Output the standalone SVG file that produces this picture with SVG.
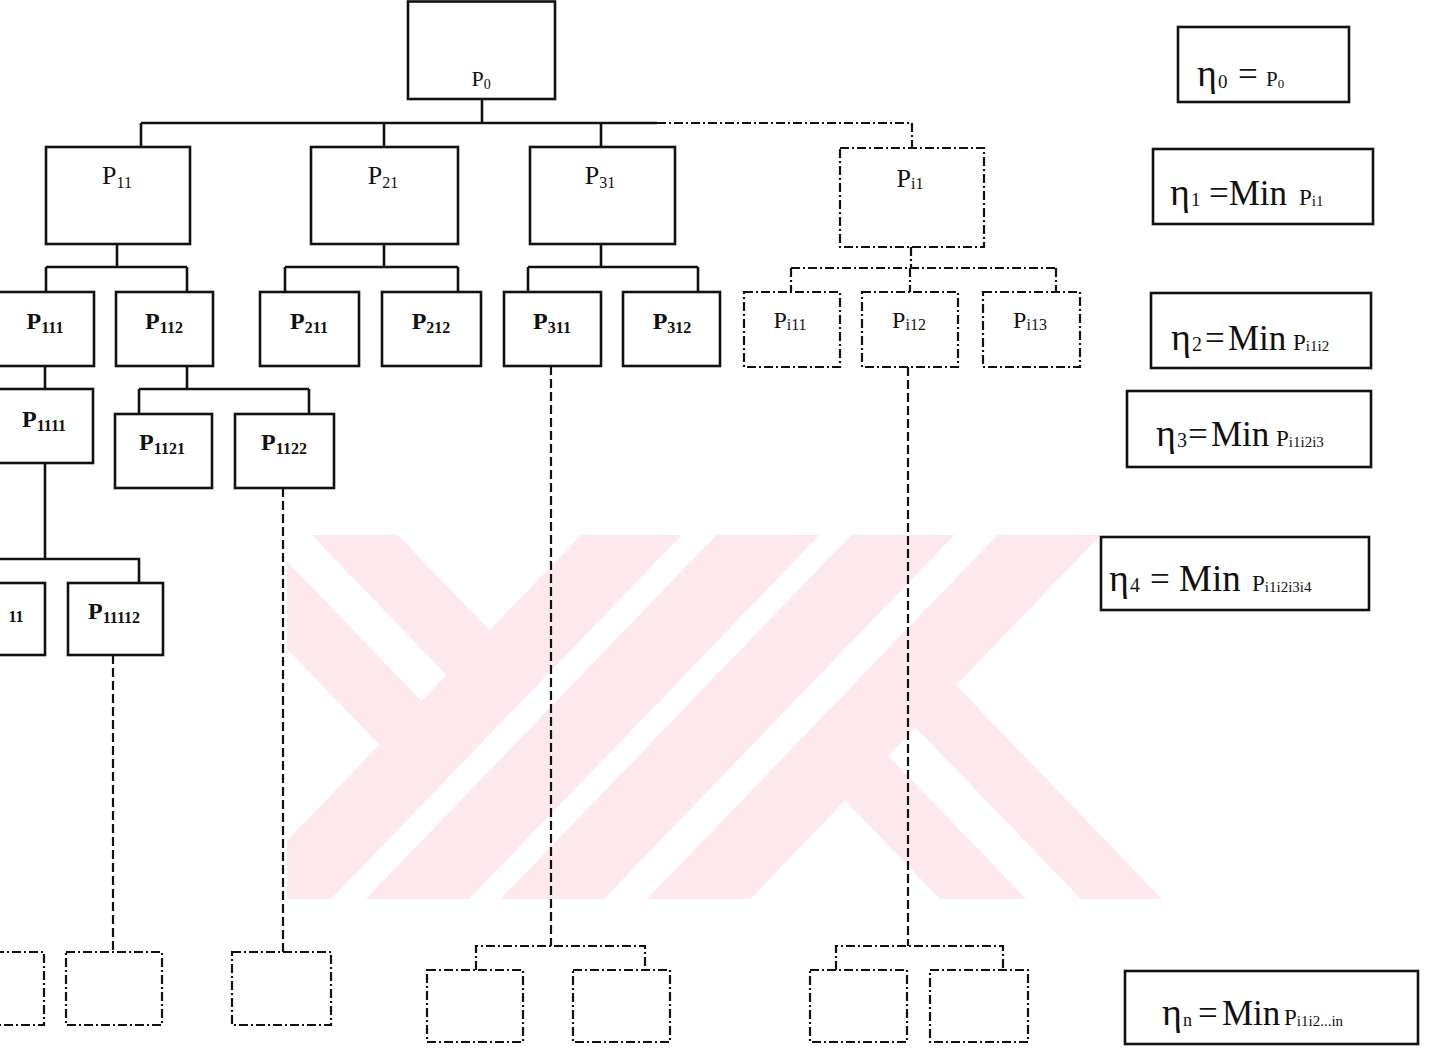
<svg xmlns="http://www.w3.org/2000/svg" width="1437" height="1049" viewBox="0 0 1437 1049">
<style>
.bx{fill:none;stroke:#111;stroke-width:2.6}
.dbx{fill:none;stroke:#111;stroke-width:2.2;stroke-dasharray:9 3 2 3}
.ln{fill:none;stroke:#111;stroke-width:2.6}
.dd{fill:none;stroke:#111;stroke-width:2.2;stroke-dasharray:9 3 2 3}
.ds{fill:none;stroke:#111;stroke-width:2.2;stroke-dasharray:9 4}
text{font-family:"Liberation Serif","Times New Roman",serif;fill:#111}
.p{font-size:26px}
.pb{font-size:24px;font-weight:bold}
.s{font-size:16px}
.eta{font-size:38px}
.mn{font-size:35px}
.sp{font-size:23px}
.ss{font-size:15px}
.wm{fill:#fde9ed}
</style>
<defs>
<clipPath id="wmclip"><rect x="287" y="535" width="888" height="364"/></clipPath>
</defs>
<rect width="1437" height="1049" fill="#ffffff"/>
<g id="watermark" clip-path="url(#wmclip)">
<polygon class="wm" points="581.3,535 681.7,535 331.2,899 230.8,899"/>
<polygon class="wm" points="716.2,535 819.5,535 469,899 365.7,899"/>
<polygon class="wm" points="851.1,535 954.4,535 603.9,899 500.6,899"/>
<polygon class="wm" points="997.5,535 1100.8,535 750.3,899 647,899"/>
<polygon class="wm" points="177.3,535 261.7,535 421.5,700.9 379.3,744.8"/>
<polygon class="wm" points="311.7,535 397.7,535 489.5,630.3 446.5,675"/>
<polygon class="wm" points="793.5,746.9 836.6,702.1 1026.1,899 940,899"/>
<polygon class="wm" points="863.9,673.8 904.5,631.6 1161.9,899 1080.7,899"/>
</g>
<g id="connectors">
<path class="ln" d="M482,99 V123 M141,123 H657 M141,123 V147 M384,123 V147 M601,123 V147"/>
<path class="dd" d="M657,123 H912 V148"/>
<path class="ln" d="M117,244 V267 M46,267 H187 M46,267 V292 M187,267 V292"/>
<path class="ln" d="M384,244 V267 M285,267 H458 M285,267 V292 M458,267 V292"/>
<path class="ln" d="M601,244 V267 M528,267 H698 M528,267 V292 M698,267 V292"/>
<path class="dd" d="M911,247 V268 M791,268 H1056 M791,268 V292 M1056,268 V292 M910,268 V292"/>
<path class="ln" d="M45,366 V389"/>
<path class="ln" d="M187,366 V389 M139,389 H309 M139,389 V414 M309,389 V414"/>
<path class="ln" d="M45,463 V559 M-5,559 H139 V583"/>
<path class="ds" d="M113,655 V952"/>
<path class="ds" d="M283,488 V952"/>
<path class="ds" d="M551,366 V946"/>
<path class="dd" d="M476,970 V946 H645 V970"/>
<path class="ds" d="M908,367 V946"/>
<path class="dd" d="M836,970 V946 H1003 V970"/>
</g>
<g id="node-P0"><rect class="bx" x="408" y="1.5" width="147" height="97.5"/><text class="p" x="481" y="86" text-anchor="middle" style="font-size:22px">P<tspan style="font-size:14px" dy="3">0</tspan></text></g>
<g id="node-P11"><rect class="bx" x="46" y="147" width="144" height="97"/><text class="p" x="117" y="184" text-anchor="middle">P<tspan class="s" dy="4">11</tspan></text></g>
<g id="node-P21"><rect class="bx" x="311" y="147" width="147" height="97"/><text class="p" x="383" y="184" text-anchor="middle">P<tspan class="s" dy="4">21</tspan></text></g>
<g id="node-P31"><rect class="bx" x="530" y="147" width="145" height="97"/><text class="p" x="600" y="184" text-anchor="middle">P<tspan class="s" dy="4">31</tspan></text></g>
<g id="node-Pi1"><rect class="dbx" x="840" y="148" width="144" height="99"/><text class="p" x="910" y="187" text-anchor="middle">P<tspan class="s" dy="2">i1</tspan></text></g>
<g id="node-P111"><rect class="bx" x="-5" y="292" width="99" height="74"/><text class="pb" x="45" y="329" text-anchor="middle">P<tspan class="s" dy="4">111</tspan></text></g>
<g id="node-P112"><rect class="bx" x="116" y="292" width="97" height="74"/><text class="pb" x="164" y="329" text-anchor="middle">P<tspan class="s" dy="4">112</tspan></text></g>
<g id="node-P211"><rect class="bx" x="260" y="292" width="99" height="74"/><text class="pb" x="309" y="329" text-anchor="middle">P<tspan class="s" dy="4">211</tspan></text></g>
<g id="node-P212"><rect class="bx" x="382" y="292" width="99" height="74"/><text class="pb" x="431" y="329" text-anchor="middle">P<tspan class="s" dy="4">212</tspan></text></g>
<g id="node-P311"><rect class="bx" x="504" y="292" width="97" height="74"/><text class="pb" x="552" y="329" text-anchor="middle">P<tspan class="s" dy="4">311</tspan></text></g>
<g id="node-P312"><rect class="bx" x="623" y="292" width="97" height="74"/><text class="pb" x="672" y="329" text-anchor="middle">P<tspan class="s" dy="4">312</tspan></text></g>
<g id="node-Pi11"><rect class="dbx" x="744" y="292" width="96" height="75"/><text class="p" x="790" y="328" text-anchor="middle" style="font-size:24px">P<tspan class="s" dy="2">i11</tspan></text></g>
<g id="node-Pi12"><rect class="dbx" x="862" y="292" width="96" height="75"/><text class="p" x="909" y="328" text-anchor="middle" style="font-size:24px">P<tspan class="s" dy="2">i12</tspan></text></g>
<g id="node-Pi13"><rect class="dbx" x="983" y="292" width="97" height="75"/><text class="p" x="1030" y="328" text-anchor="middle" style="font-size:24px">P<tspan class="s" dy="2">i13</tspan></text></g>
<g id="node-P1111"><rect class="bx" x="-5" y="389" width="98" height="74"/><text class="pb" x="44" y="427" text-anchor="middle">P<tspan class="s" dy="4">1111</tspan></text></g>
<g id="node-P1121"><rect class="bx" x="115" y="414" width="97" height="74"/><text class="pb" x="162" y="450" text-anchor="middle">P<tspan class="s" dy="4">1121</tspan></text></g>
<g id="node-P1122"><rect class="bx" x="235" y="414" width="99" height="74"/><text class="pb" x="284" y="450" text-anchor="middle">P<tspan class="s" dy="4">1122</tspan></text></g>
<g id="node-P11111"><rect class="bx" x="-5" y="583" width="50" height="72"/><text class="s" x="16" y="622" text-anchor="middle" style="font-weight:bold">11</text></g>
<g id="node-P11112"><rect class="bx" x="68" y="583" width="95" height="72"/><text class="pb" x="114" y="619" text-anchor="middle">P<tspan class="s" dy="4">11112</tspan></text></g>
<g id="node-bA"><rect class="dbx" x="-5" y="952" width="49" height="73"/></g>
<g id="node-bB"><rect class="dbx" x="66" y="952" width="96" height="73"/></g>
<g id="node-bC"><rect class="dbx" x="232" y="952" width="99" height="73"/></g>
<g id="node-bD"><rect class="dbx" x="427" y="970" width="96" height="72"/></g>
<g id="node-bE"><rect class="dbx" x="573" y="970" width="97" height="72"/></g>
<g id="node-bF"><rect class="dbx" x="810" y="970" width="97" height="72"/></g>
<g id="node-bG"><rect class="dbx" x="930" y="970" width="98" height="72"/></g>
<g id="eta0"><rect class="bx" x="1178" y="27" width="171" height="75"/><text y="86"><tspan class="eta" x="1197">η</tspan><tspan class="ss" style="font-size:19px" dx="1" dy="2">0</tspan><tspan class="mn" x="1238" dy="-2">=</tspan><tspan class="sp" x="1266" style="font-size:21px">P</tspan><tspan class="ss" style="font-size:13px" dy="2">0</tspan></text></g>
<g id="eta1"><rect class="bx" x="1153" y="149" width="220" height="75"/><text y="205"><tspan class="eta" x="1170">η</tspan><tspan class="ss" style="font-size:19px" dx="1" dy="1">1</tspan><tspan class="mn" x="1209" dy="-1">=Min</tspan><tspan class="sp" x="1299">P</tspan><tspan class="ss" dy="1">i1</tspan></text></g>
<g id="eta2"><rect class="bx" x="1151" y="293" width="220" height="75"/><text y="350"><tspan class="eta" x="1171">η</tspan><tspan class="ss" style="font-size:20px" dx="1" dy="1">2</tspan><tspan class="mn" x="1205" dy="-1">=</tspan><tspan class="mn" x="1228">Min</tspan><tspan class="sp" x="1293">P</tspan><tspan class="ss" dy="1">i1i2</tspan></text></g>
<g id="eta3"><rect class="bx" x="1127" y="391" width="244" height="76"/><text y="446"><tspan class="eta" x="1156">η</tspan><tspan class="ss" style="font-size:20px" dx="1" dy="1">3</tspan><tspan class="mn" x="1188" dy="-1">=</tspan><tspan class="mn" x="1211">Min</tspan><tspan class="sp" x="1276">P</tspan><tspan class="ss" dy="1">i1i2i3</tspan></text></g>
<g id="eta4"><rect class="bx" x="1101" y="537" width="268" height="73"/><text y="591"><tspan class="eta" x="1109">η</tspan><tspan class="ss" style="font-size:20px" dx="1" dy="1">4</tspan><tspan class="mn" x="1150" dy="-1">=</tspan><tspan class="mn" x="1179" style="font-size:37px">Min</tspan><tspan class="sp" x="1252">P</tspan><tspan class="ss" dy="1">i1i2i3i4</tspan></text></g>
<g id="etan"><rect class="bx" x="1125" y="971" width="293" height="73"/><text y="1025"><tspan class="eta" x="1162">η</tspan><tspan class="ss" style="font-size:18px" dx="1" dy="1">n</tspan><tspan class="mn" x="1198" dy="-1">=</tspan><tspan class="mn" x="1222">Min</tspan><tspan class="sp" x="1284">P</tspan><tspan class="ss" dy="1">i1i2...in</tspan></text></g>
</svg>
